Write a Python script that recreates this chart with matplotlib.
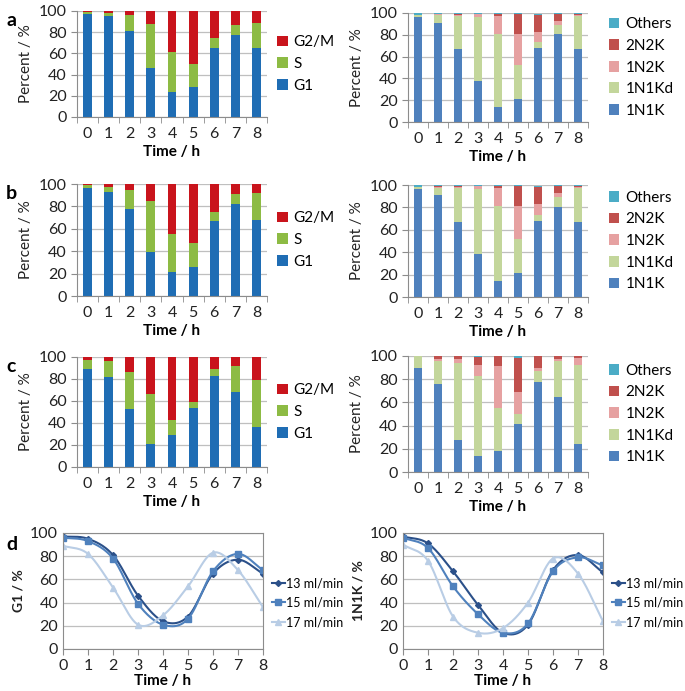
import matplotlib.pyplot as plt
import numpy as np

plt.rcParams['font.family'] = ['Lato', 'DejaVu Sans']

hours = [0, 1, 2, 3, 4, 5, 6, 7, 8]

# Cell-cycle phases (panels a-c, left), percent
g1_a = [97, 95, 81, 46, 24, 28, 65, 77, 65]
s_a = [2, 3, 15, 42, 37, 22, 10, 10, 24]
g2m_a = [1, 2, 4, 12, 39, 50, 25, 13, 11]

g1_b = [96, 93, 78, 39, 21, 26, 67, 82, 68]
s_b = [3, 4, 17, 46, 34, 21, 8, 9, 24]
g2m_b = [1, 3, 5, 15, 45, 53, 25, 9, 8]

g1_c = [89, 82, 53, 21, 29, 54, 83, 68, 36]
s_c = [8, 14, 33, 45, 14, 5, 6, 24, 43]
g2m_c = [3, 4, 14, 34, 57, 41, 11, 8, 21]

# Nucleus/kinetoplast configurations (panels a-c, right), percent
n1k_a = [96, 91, 67, 38, 14, 21, 68, 81, 67]
n1kd_a = [2.5, 7.5, 30, 58, 67, 31, 5, 8, 30]
n2k_a = [0, 0.5, 1, 3, 16.5, 29, 10, 4, 1]
nn2k_a = [0, 0.5, 1.5, 0.5, 1.5, 18.5, 15.5, 6, 1]
oth_a = [1.5, 0.5, 0.5, 0.5, 1, 0.5, 1, 1, 1]

n1k_b = [96, 91, 67, 38, 14, 21, 68, 80, 67]
n1kd_b = [2.5, 6, 30, 58, 67, 31, 5, 9, 30]
n2k_b = [0, 1, 1, 3, 16, 29, 10, 4, 1]
nn2k_b = [0, 1, 1, 0.5, 2, 18, 15, 6, 1]
oth_b = [1.5, 1, 1, 0.5, 1, 1, 1.5, 1, 1]

n1k_c = [90, 76, 28, 14, 18, 41, 78, 65, 24]
n1kd_c = [10, 20, 66, 69, 37, 9, 9, 31, 68]
n2k_c = [0, 1, 3, 9, 36, 19, 3, 1, 6]
nn2k_c = [0, 3, 3, 7, 9, 29.5, 10, 3, 2]
oth_c = [0, 0, 0, 1, 0, 1.5, 0, 0, 0]

# Panel d: time courses
flows = ['13 ml/min', '15 ml/min', '17 ml/min']
g1_d = [g1_a, g1_b, g1_c]
n1k_d = [[97, 91, 67, 38, 14, 21, 68, 81, 66],
         [96, 87, 54, 30, 14, 22, 67, 79, 72],
         [90, 76, 28, 14, 18, 40, 78, 65, 24]]

W, H = 685, 691
fig = plt.figure(figsize=(W / 100, H / 100), dpi=100)

grid_c = '#bfbfbf'
axis_c = '#8c8c8c'
tick_fs = 11.5


def box(x0, y0, x1, y1):
    return [x0 / W, 1 - y1 / H, (x1 - x0) / W, (y1 - y0) / H]


def style(ax, ylabel, boxed=False):
    ax.set_ylim(0, 100)
    ax.set_yticks(range(0, 101, 20))
    ax.yaxis.grid(True, color=grid_c, lw=0.9)
    ax.set_axisbelow(True)
    for s in ['top', 'right']:
        ax.spines[s].set_visible(boxed)
    for s in ax.spines.values():
        s.set_color(axis_c)
    ax.tick_params(colors=axis_c, labelcolor='#222222', labelsize=tick_fs, length=3)
    ax.tick_params(axis='x', pad=7)
    ax.set_ylabel(ylabel, fontsize=11, color='#222222', labelpad=4)
    ax.set_xlabel('Time / h', fontsize=11, fontweight='bold', labelpad=3)


def bars(ax, layers, colors, labels, ylabel, leg_x):
    bottom = np.zeros(len(hours))
    handles = []
    for vals, col, lab in zip(layers, colors, labels):
        h = ax.bar(hours, vals, 0.42, bottom=bottom, color=col, label=lab)
        handles.append(h)
        bottom += np.array(vals)
    ax.set_xlim(-0.5, 8.5)
    ax.set_xticks(hours)
    ax.set_xticks(np.arange(-0.5, 9, 1), minor=True)
    style(ax, ylabel)
    ax.tick_params(axis='x', which='major', length=0)
    ax.tick_params(axis='x', which='minor', length=4, color=axis_c)
    ax.tick_params(axis='y', length=4)
    ax.legend(handles[::-1], labels[::-1], loc='center left', bbox_to_anchor=(leg_x, 0.5),
              frameon=False, fontsize=11, handlelength=0.7, handleheight=0.7,
              handletextpad=0.4, labelspacing=0.5, borderaxespad=0)


phase_cols = ['#1f6db4', '#8dbb44', '#c9141c']
phase_labs = ['G1', 'S', 'G2/M']
nk_cols = ['#4f81bd', '#c3d69b', '#e6a1a1', '#c0504d', '#4bacc6']
nk_labs = ['1N1K', '1N1Kd', '1N2K', '2N2K', 'Others']

left_boxes = [(77, 11, 267, 117), (77, 184, 267, 296), (77, 357, 267, 467)]
right_boxes = [(408, 13, 588, 122), (408, 185, 588, 297), (408, 356, 588, 472)]
phase_sets = [(g1_a, s_a, g2m_a), (g1_b, s_b, g2m_b), (g1_c, s_c, g2m_c)]
nk_sets = [(n1k_a, n1kd_a, n2k_a, nn2k_a, oth_a),
           (n1k_b, n1kd_b, n2k_b, nn2k_b, oth_b),
           (n1k_c, n1kd_c, n2k_c, nn2k_c, oth_c)]
letters = ['a', 'b', 'c']

for i in range(3):
    axl = fig.add_axes(box(*left_boxes[i]))
    bars(axl, phase_sets[i], phase_cols, phase_labs, 'Percent / %', 1.02)
    axr = fig.add_axes(box(*right_boxes[i]))
    bars(axr, nk_sets[i], nk_cols, nk_labs, 'Percent / %', 1.08)
    fig.text(6 / W, 1 - (left_boxes[i][1] + 10) / H, letters[i], fontsize=14,
             fontweight='bold', va='center')


def smooth(x, y, n=24):
    # Catmull-Rom curve through the points, like a spreadsheet "smoothed line"
    x = np.asarray(x, float)
    y = np.asarray(y, float)
    px = np.concatenate([[2 * x[0] - x[1]], x, [2 * x[-1] - x[-2]]])
    py = np.concatenate([[2 * y[0] - y[1]], y, [2 * y[-1] - y[-2]]])
    xs, ys = [], []
    t = np.linspace(0, 1, n, endpoint=False)
    for k in range(1, len(px) - 2):
        p0, p1, p2, p3 = (np.array([px[j], py[j]]) for j in range(k - 1, k + 3))
        tt = t[:, None]
        pts = 0.5 * ((2 * p1) + (-p0 + p2) * tt + (2 * p0 - 5 * p1 + 4 * p2 - p3) * tt ** 2
                     + (-p0 + 3 * p1 - 3 * p2 + p3) * tt ** 3)
        xs.extend(pts[:, 0])
        ys.extend(pts[:, 1])
    xs.append(x[-1])
    ys.append(y[-1])
    return xs, ys


line_cols = ['#2b5089', '#4f81bd', '#b9cde5']
markers = ['D', 's', '^']
msizes = [3, 5, 4.5]

for ax_box, series, ylab in [((63, 533, 263, 649), g1_d, 'G1 / %'),
                             ((403, 533, 603, 649), n1k_d, '1N1K / %')]:
    ax = fig.add_axes(box(*ax_box))
    handles = []
    for vals, col, mk, ms in zip(series, line_cols, markers, msizes):
        sx, sy = smooth(hours, vals)
        ax.plot(sx, sy, color=col, lw=1.5)
        ax.plot(hours, vals, ls='none', marker=mk, ms=ms, color=col)
        handles.append(plt.Line2D([], [], color=col, lw=1.5, marker=mk, ms=ms))
    ax.set_xlim(0, 8)
    ax.set_xticks(hours)
    style(ax, ylab, boxed=True)
    ax.yaxis.label.set_fontweight('bold')
    ax.yaxis.label.set_fontsize(10)
    ax.tick_params(axis='x', length=4, pad=3)
    ax.tick_params(axis='y', length=0)
    ax.set_xlabel('Time / h', fontsize=11, fontweight='bold', labelpad=1)
    ax.legend(handles, flows, loc='center left', bbox_to_anchor=(1.02, 0.4), frameon=False,
              fontsize=9, handlelength=1.0, handletextpad=0.1, labelspacing=0.6,
              borderaxespad=0)

fig.text(6 / W, 1 - 545 / H, 'd', fontsize=14, fontweight='bold', va='center')

fig.savefig('out.png', dpi=100)
